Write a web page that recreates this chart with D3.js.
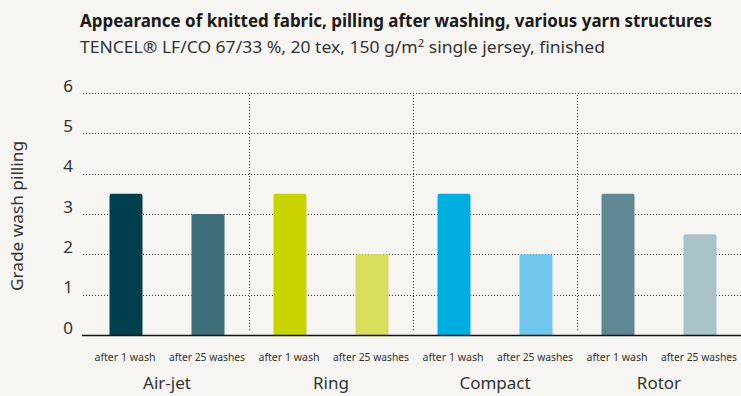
<!DOCTYPE html>
<html>
<head>
<meta charset="utf-8">
<script src="https://cdn.jsdelivr.net/npm/d3@7"></script>
<style>
  body { margin: 0; background: #f6f5f1; }
  svg { display: block; font-family: "Noto Sans", sans-serif; }
</style>
</head>
<body>
<div id="chart"></div>
<script>
(function () {

    'use strict';

    var groups = ['Air-jet', 'Ring', 'Compact', 'Rotor'];
    var washes = ['after 1 wash', 'after 25 washes'];
    var afterOne = [3.5, 3.5, 3.5, 3.5];
    var afterTwentyFive = [3.0, 2.0, 2.0, 2.5];
    var yTicks = [0, 1, 2, 3, 4, 5, 6];
    var colorsOne = ['#003f4e', '#c9d300', '#00afe0', '#5f8894'];
    var colorsTwentyFive = ['#3f6e7b', '#d8dd5c', '#70c6ec', '#aac3ca'];

    var width = 741;
    var height = 396;
    var margin = { top: 93, right: 0, bottom: 61, left: 85 };

    var svg = d3.select('#chart')
        .append('svg')
            .attr('width', width)
            .attr('height', height);

    svg.append('rect')
        .attr('width', width)
        .attr('height', height)
        .attr('fill', '#f6f5f1');

    // titles
    svg.append('text')
        .attr('x', 80)
        .attr('y', 27)
        .attr('font-size', 17)
        .attr('font-weight', 'bold')
        .attr('fill', '#1a1a1a')
        .attr('textLength', 632)
        .attr('lengthAdjust', 'spacingAndGlyphs')
        .text('Appearance of knitted fabric, pilling after washing, various yarn structures');

    var sub = svg.append('text')
        .attr('x', 80)
        .attr('y', 53)
        .attr('font-size', 17)
        .attr('fill', '#333')
        .attr('textLength', 525)
        .attr('lengthAdjust', 'spacingAndGlyphs');
    sub.append('tspan').text('TENCEL® LF/CO 67/33 %, 20 tex, 150 g/m');
    sub.append('tspan').attr('font-size', 11).attr('dy', -6).text('2');
    sub.append('tspan').attr('dy', 6).text(' single jersey, finished');

    var data = [];
    groups.forEach(function (g, i) {
        data.push({ group: g, wash: washes[0], value: afterOne[i], color: colorsOne[i] });
        data.push({ group: g, wash: washes[1], value: afterTwentyFive[i], color: colorsTwentyFive[i] });
    });

    var x0 = d3.scaleBand()
        .domain(groups)
        .range([margin.left, width - margin.right]);

    var x1 = d3.scaleBand()
        .domain(washes)
        .range([0, x0.bandwidth()]);

    var y = d3.scaleLinear()
        .domain([0, 6])
        .range([height - margin.bottom, margin.top]);

    var barWidth = 33;

    // horizontal dotted grid
    svg.append('g')
        .selectAll('line')
        .data(yTicks.filter(function (t) { return t > 0; }))
        .enter()
        .append('line')
            .attr('x1', margin.left - 2)
            .attr('x2', width)
            .attr('y1', function (d) { return Math.round(y(d)) + 0.5; })
            .attr('y2', function (d) { return Math.round(y(d)) + 0.5; })
            .attr('stroke', '#333')
            .attr('stroke-width', 1)
            .attr('stroke-dasharray', '1,2');

    // vertical separators between groups
    svg.append('g')
        .selectAll('line')
        .data(groups.slice(1))
        .enter()
        .append('line')
            .attr('x1', function (d) { return Math.round(x0(d)) + 0.5; })
            .attr('x2', function (d) { return Math.round(x0(d)) + 0.5; })
            .attr('y1', y(6) + 2)
            .attr('y2', y(0) - 4)
            .attr('stroke', '#333')
            .attr('stroke-width', 1)
            .attr('stroke-dasharray', '1,2');

    // bars with rounded tops
    svg.append('g')
        .selectAll('path')
        .data(data)
        .enter()
        .append('path')
            .attr('fill', function (d) { return d.color; })
            .attr('d', function (d) {
                var cx = x0(d.group) + x1(d.wash) + x1.bandwidth() / 2;
                var left = cx - barWidth / 2;
                var top = y(d.value);
                var bottom = y(0);
                var r = 2;
                return 'M' + left + ',' + bottom +
                    'V' + (top + r) +
                    'Q' + left + ',' + top + ' ' + (left + r) + ',' + top +
                    'H' + (left + barWidth - r) +
                    'Q' + (left + barWidth) + ',' + top + ' ' + (left + barWidth) + ',' + (top + r) +
                    'V' + bottom + 'Z';
            });

    // baseline
    svg.append('line')
        .attr('x1', margin.left - 3)
        .attr('x2', width)
        .attr('y1', y(0) + 0.5)
        .attr('y2', y(0) + 0.5)
        .attr('stroke', '#111')
        .attr('stroke-width', 1.5);

    // y axis labels
    var yAxis = d3.axisLeft(y)
        .tickValues(yTicks)
        .tickSize(0)
        .tickPadding(0)
        .tickFormat(d3.format('d'));

    var yAxisG = svg.append('g')
        .attr('transform', 'translate(' + (margin.left - 12) + ',0)')
        .call(yAxis);
    yAxisG.select('.domain').remove();
    yAxisG.selectAll('text')
        .attr('font-size', 17)
        .attr('font-family', '"Noto Sans", sans-serif')
        .attr('fill', '#333')
        .attr('dy', '-0.1em');

    svg.append('text')
        .attr('transform', 'translate(23,' + ((y(0) + y(6)) / 2 + 2) + ') rotate(-90)')
        .attr('text-anchor', 'middle')
        .attr('font-size', 16)
        .attr('fill', '#333')
        .attr('textLength', 150)
        .attr('lengthAdjust', 'spacingAndGlyphs')
        .text('Grade wash pilling');

    // sub category labels (condensed to fit like the original narrow face)
    svg.append('g')
        .selectAll('text')
        .data(data)
        .enter()
        .append('text')
            .attr('x', function (d) { return x0(d.group) + x1(d.wash) + x1.bandwidth() / 2 - 1; })
            .attr('y', 361)
            .attr('text-anchor', 'middle')
            .attr('font-size', 11)
            .attr('fill', '#333')
            .attr('textLength', function (d) { return d.wash === washes[0] ? 61 : 76; })
            .attr('lengthAdjust', 'spacingAndGlyphs')
            .text(function (d) { return d.wash; });

    // group labels
    svg.append('g')
        .selectAll('text')
        .data(groups)
        .enter()
        .append('text')
            .attr('x', function (d) { return x0(d) + x0.bandwidth() / 2; })
            .attr('y', 389)
            .attr('text-anchor', 'middle')
            .attr('font-size', 17)
            .attr('fill', '#333')
            .text(function (d) { return d; });

}());
</script>
</body>
</html>
